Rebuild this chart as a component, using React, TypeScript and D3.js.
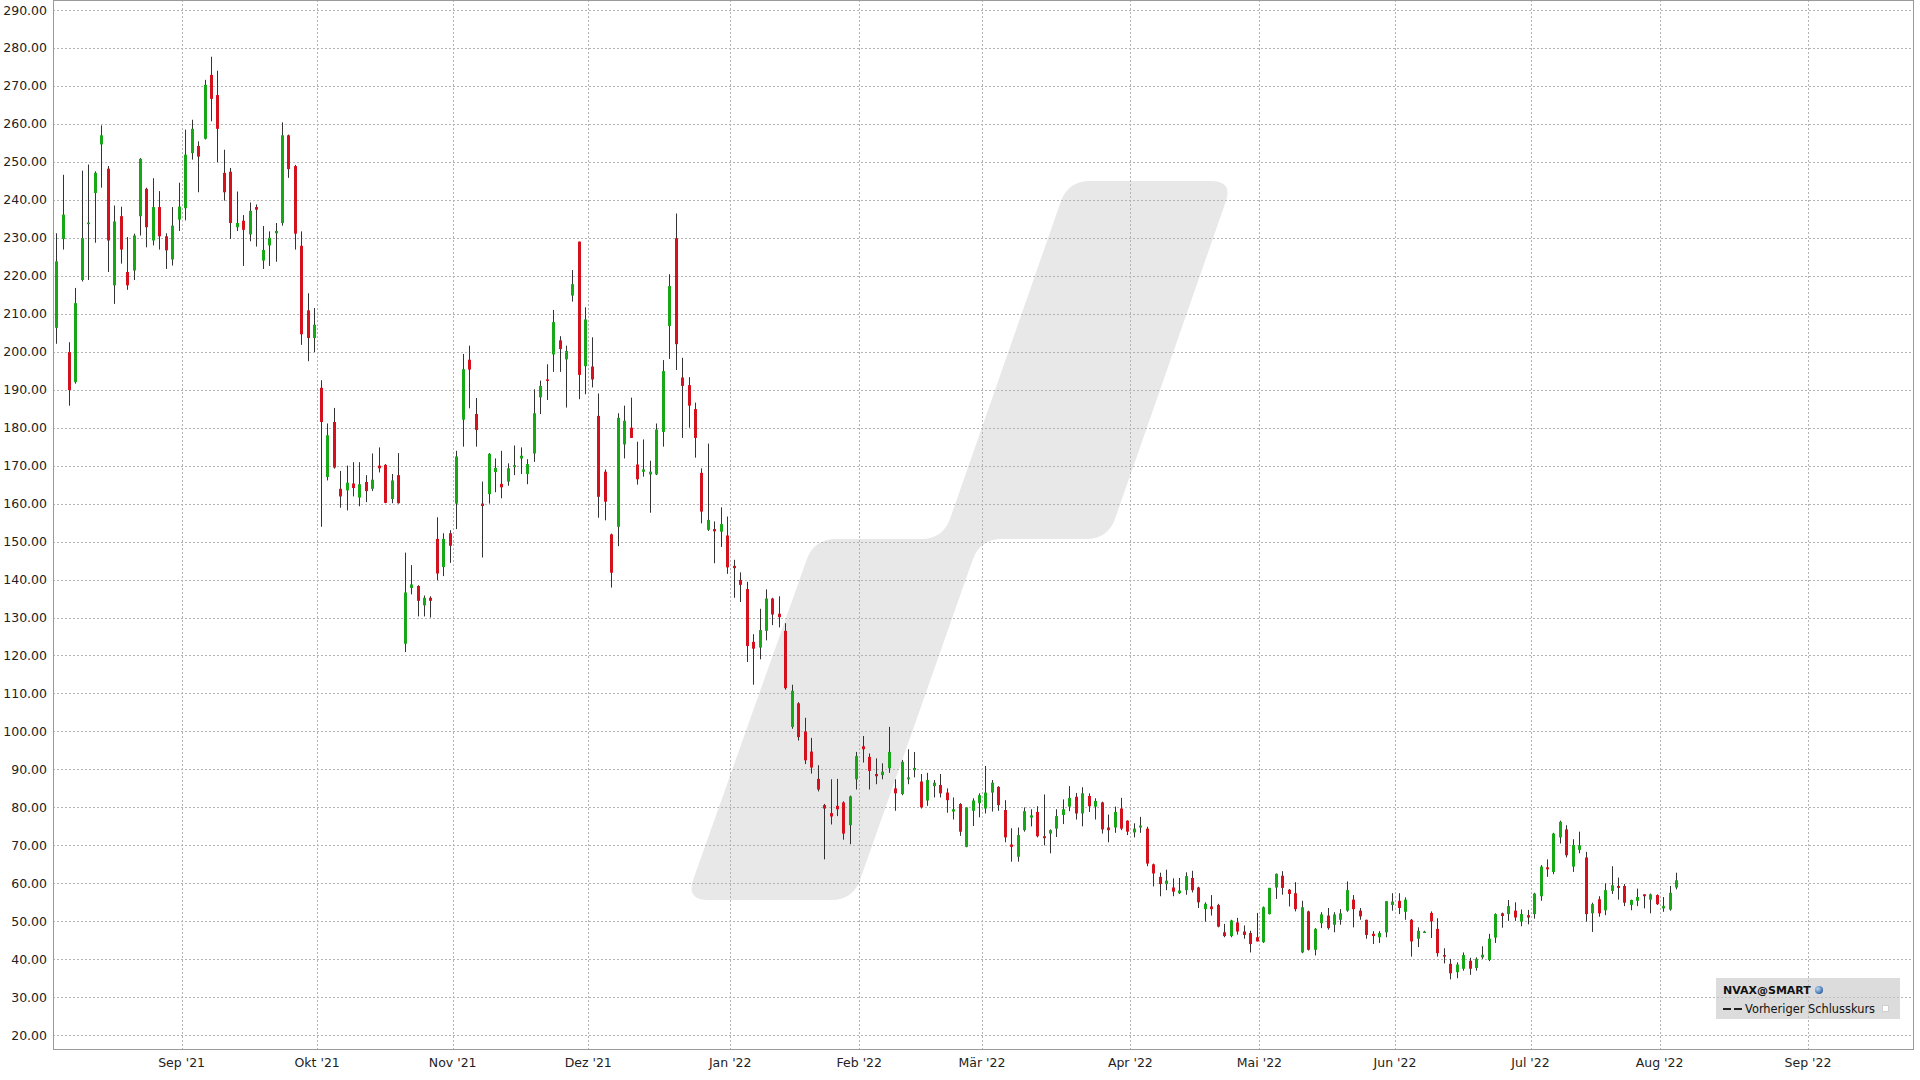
import { useMemo } from 'react'
import * as d3 from 'd3'

// NVAX daily candles, 2021-08-04 .. 2022-08-03 (one value per trading day)
const startDate = '2021-08-04'
const endDate = '2022-10-01'
const holidays = [
  '2021-09-06', '2021-11-25', '2021-12-24', '2022-01-17', '2022-02-21',
  '2022-04-15', '2022-05-30', '2022-06-20', '2022-07-04', '2022-09-05',
]
const monthNames = ['Jan', 'Feb', 'Mär', 'Apr', 'Mai', 'Jun', 'Jul', 'Aug', 'Sep', 'Okt', 'Nov', 'Dez']
const yTicks = d3.range(20, 291, 10)

const open = [
  206.3, 229.7, 199.9, 192.0, 218.9, 233.6, 241.8, 254.6, 248.2, 217.5,
  235.7, 221.0, 221.4, 235.7, 242.9, 229.3, 238.1, 230.4, 224.3, 234.8,
  237.8, 252.3, 254.2, 256.1, 272.9, 267.6, 247.1, 247.4, 232.8, 234.5,
  230.9, 238.1, 224.0, 228.0, 231.2, 233.9, 257.0, 248.9, 227.9, 210.9,
  203.6, 190.5, 167.0, 181.5, 163.9, 163.5, 165.3, 161.6, 165.7, 163.9,
  170.0, 170.2, 161.2, 167.5, 123.1, 137.8, 138.3, 133.2, 135.2, 150.7,
  143.3, 152.2, 160.0, 182.1, 197.9, 183.6, 160.0, 162.5, 168.3, 165.2,
  165.8, 169.6, 171.9, 167.8, 173.2, 188.0, 192.7, 199.3, 203.0, 198.0,
  214.8, 229.0, 196.2, 196.1, 183.1, 168.4, 151.9, 153.9, 175.6, 180.0,
  170.3, 168.4, 167.7, 167.7, 178.9, 206.8, 229.9, 193.2, 191.2, 184.9,
  168.1, 153.1, 153.3, 152.6, 151.6, 143.6, 139.9, 137.5, 123.6, 122.1,
  126.5, 135.0, 131.0, 126.5, 101.2, 107.4, 100.0, 94.7, 87.5, 80.6,
  78.5, 80.4, 81.3, 75.3, 87.4, 96.1, 93.3, 88.8, 88.5, 90.3,
  85.0, 83.5, 87.4, 89.8, 86.8, 81.8, 85.6, 85.9, 83.9, 78.9,
  80.9, 69.6, 79.1, 81.1, 79.7, 83.9, 85.4, 79.3, 70.2, 67.0,
  74.0, 77.3, 78.8, 72.4, 73.1, 74.4, 78.0, 80.2, 82.8, 78.4,
  83.0, 80.2, 81.3, 74.7, 74.7, 79.7, 76.5, 73.4, 74.7, 74.4,
  65.0, 61.7, 59.8, 58.9, 57.4, 58.2, 61.4, 58.9, 53.2, 53.9,
  54.3, 47.1, 46.1, 49.7, 47.3, 46.9, 45.8, 44.5, 51.9, 58.9,
  62.0, 58.3, 57.4, 41.8, 52.6, 42.5, 49.5, 51.5, 49.1, 50.4,
  52.8, 55.7, 52.8, 50.4, 46.7, 45.8, 47.1, 54.3, 55.4, 52.5,
  50.4, 45.4, 47.2, 52.2, 48.0, 41.1, 38.8, 36.6, 37.5, 39.6,
  37.7, 40.5, 39.8, 45.7, 52.1, 51.9, 52.8, 49.9, 51.6, 51.9,
  56.6, 64.2, 63.0, 72.1, 74.2, 64.4, 68.8, 66.8, 52.1, 55.8,
  52.9, 58.0, 59.3, 59.3, 54.3, 55.4, 57.1, 55.7, 56.9, 53.4,
  53.1, 58.9,
]

const high = [
  231.2, 246.6, 202.5, 216.8, 247.7, 249.3, 247.5, 259.6, 248.9, 238.5,
  238.2, 230.2, 231.1, 251.0, 243.2, 245.7, 242.3, 231.2, 238.1, 244.5,
  258.5, 261.1, 255.4, 271.6, 277.7, 274.0, 253.2, 248.4, 242.2, 236.0,
  239.3, 238.8, 233.1, 231.7, 233.9, 260.4, 257.2, 249.2, 231.7, 215.4,
  211.5, 192.5, 181.1, 185.2, 168.6, 170.0, 170.9, 170.9, 167.5, 173.2,
  174.8, 170.4, 167.8, 173.3, 147.1, 143.8, 138.5, 135.8, 135.6, 156.4,
  152.2, 153.0, 173.9, 199.4, 201.6, 187.8, 165.8, 173.3, 171.9, 173.9,
  170.6, 175.3, 174.8, 171.7, 190.1, 192.4, 196.7, 211.0, 204.1, 201.6,
  221.5, 229.0, 211.7, 203.8, 189.0, 169.0, 152.1, 183.8, 185.8, 187.9,
  176.3, 176.9, 171.3, 181.1, 197.8, 220.4, 236.4, 198.4, 193.3, 186.6,
  169.3, 175.8, 155.3, 159.0, 156.6, 145.2, 141.9, 139.4, 125.6, 132.3,
  137.4, 135.2, 135.6, 128.5, 112.3, 107.7, 103.6, 98.3, 91.1, 80.9,
  87.4, 87.5, 81.6, 83.1, 94.6, 98.8, 94.2, 92.9, 91.6, 101.2,
  87.4, 92.5, 95.3, 94.6, 88.8, 89.1, 87.2, 88.8, 85.0, 82.6,
  81.1, 80.0, 82.4, 83.7, 90.9, 87.2, 85.6, 81.9, 74.5, 74.7,
  80.0, 79.5, 80.3, 83.4, 74.2, 79.5, 82.1, 85.6, 83.8, 85.3,
  83.7, 82.4, 81.5, 78.1, 80.2, 82.5, 76.6, 75.8, 77.5, 74.9,
  65.2, 62.8, 63.6, 61.3, 61.4, 62.9, 63.3, 59.1, 55.0, 56.9,
  54.6, 49.3, 50.4, 50.9, 48.9, 47.5, 52.2, 53.9, 58.8, 62.6,
  63.2, 58.5, 60.3, 55.4, 52.8, 48.2, 52.4, 53.5, 52.4, 53.2,
  60.5, 56.9, 53.5, 50.4, 47.4, 47.4, 55.3, 57.4, 57.4, 56.3,
  50.6, 48.4, 47.5, 52.6, 50.8, 42.9, 40.1, 39.2, 41.8, 40.4,
  40.5, 43.4, 46.7, 52.1, 52.3, 55.6, 55.0, 53.1, 53.0, 57.5,
  64.8, 66.3, 73.3, 76.5, 75.3, 71.6, 73.6, 68.3, 54.9, 56.6,
  60.0, 64.5, 61.5, 59.8, 55.7, 58.6, 57.1, 57.3, 57.1, 56.4,
  59.3, 62.8,
]

const low = [
  202.1, 226.9, 185.8, 191.6, 218.5, 218.9, 228.7, 243.2, 221.0, 212.6,
  223.2, 216.3, 218.9, 230.6, 227.5, 228.0, 226.9, 221.8, 222.7, 231.8,
  234.6, 250.6, 242.0, 255.9, 260.7, 249.9, 239.8, 229.7, 231.8, 222.6,
  229.1, 227.7, 221.8, 222.6, 223.7, 233.2, 245.8, 226.9, 201.8, 197.5,
  199.9, 153.9, 166.1, 169.2, 158.9, 158.2, 161.9, 159.3, 160.4, 163.3,
  168.2, 160.1, 160.1, 160.0, 120.9, 136.1, 130.3, 130.3, 130.0, 139.8,
  140.9, 144.4, 153.3, 175.0, 185.1, 175.0, 145.8, 160.0, 163.0, 161.4,
  164.7, 167.5, 167.8, 165.1, 171.0, 183.6, 187.3, 194.7, 194.7, 185.3,
  213.2, 187.5, 188.8, 190.6, 156.3, 155.6, 137.9, 148.8, 171.9, 177.3,
  165.0, 167.1, 157.6, 167.5, 175.0, 198.1, 195.2, 177.3, 180.0, 172.1,
  154.8, 152.8, 144.3, 148.6, 141.5, 135.2, 134.1, 118.3, 112.3, 119.0,
  124.0, 128.0, 127.4, 111.0, 100.7, 97.6, 91.4, 88.9, 84.2, 66.3,
  75.5, 77.7, 71.5, 70.3, 84.7, 91.8, 84.7, 86.1, 87.4, 89.1,
  79.1, 83.2, 86.1, 87.9, 79.7, 80.4, 82.6, 82.6, 78.6, 76.8,
  72.5, 69.5, 75.1, 77.4, 78.4, 78.9, 79.1, 70.8, 65.7, 65.7,
  73.6, 75.0, 72.1, 70.0, 67.9, 72.2, 75.6, 79.0, 76.8, 75.0,
  78.8, 76.8, 73.1, 70.8, 73.3, 74.0, 72.7, 72.1, 73.3, 64.5,
  59.2, 56.6, 58.2, 56.6, 57.2, 57.0, 57.6, 53.5, 49.9, 51.5,
  48.4, 45.8, 45.8, 46.5, 45.4, 41.8, 44.7, 44.3, 51.8, 55.9,
  57.0, 53.9, 52.6, 41.6, 42.3, 41.0, 48.2, 47.8, 47.1, 49.1,
  52.5, 48.4, 50.4, 45.4, 44.0, 44.3, 45.8, 52.8, 51.9, 50.4,
  40.7, 43.2, 47.1, 45.6, 40.7, 38.9, 34.7, 35.0, 37.0, 35.9,
  37.0, 40.1, 39.5, 44.3, 48.3, 50.1, 50.1, 48.7, 49.2, 50.7,
  55.4, 61.7, 62.4, 70.5, 66.8, 63.0, 67.9, 49.9, 47.2, 51.2,
  51.6, 57.2, 55.7, 54.0, 52.9, 54.0, 53.4, 52.1, 54.3, 52.5,
  52.8, 58.4,
]

const close = [
  223.8, 236.1, 189.9, 212.8, 229.9, 234.0, 247.1, 257.0, 229.3, 234.3,
  226.9, 217.5, 230.6, 250.8, 232.8, 238.1, 230.4, 226.7, 233.2, 238.2,
  251.9, 258.7, 251.4, 270.3, 266.6, 258.7, 242.0, 233.9, 233.9, 232.1,
  237.1, 237.4, 226.8, 230.0, 231.8, 257.0, 248.1, 231.1, 204.6, 203.6,
  207.1, 181.5, 178.0, 169.5, 161.9, 165.5, 164.1, 165.1, 163.3, 166.3,
  169.3, 160.2, 166.1, 160.1, 136.6, 138.7, 134.4, 135.2, 134.4, 141.6,
  150.7, 148.9, 172.4, 195.4, 195.3, 179.4, 159.4, 173.1, 169.4, 164.3,
  169.3, 170.1, 172.6, 170.4, 183.8, 191.0, 192.3, 207.8, 200.7, 200.2,
  217.8, 193.9, 208.5, 192.7, 161.8, 160.5, 141.8, 182.6, 181.8, 177.3,
  166.4, 169.0, 168.4, 179.5, 194.9, 217.3, 202.0, 191.0, 185.8, 177.3,
  157.9, 155.7, 152.7, 154.6, 143.2, 143.0, 138.6, 122.5, 121.8, 126.7,
  135.0, 130.8, 130.1, 111.4, 110.7, 98.5, 92.4, 90.5, 84.7, 79.7,
  77.6, 79.5, 73.1, 82.9, 93.5, 95.3, 89.6, 88.2, 89.4, 94.6,
  83.7, 92.0, 87.9, 90.4, 80.0, 87.2, 86.5, 83.7, 81.9, 79.5,
  73.6, 80.0, 81.8, 83.2, 83.9, 86.5, 80.6, 72.1, 69.6, 72.7,
  79.0, 77.9, 72.4, 71.9, 74.0, 77.7, 79.5, 82.5, 78.4, 83.7,
  80.3, 81.7, 74.2, 74.0, 78.8, 74.4, 73.6, 74.4, 75.2, 65.2,
  62.6, 59.8, 60.7, 57.8, 58.1, 61.9, 58.2, 55.0, 54.6, 53.2,
  48.6, 46.1, 50.2, 47.3, 46.4, 44.0, 44.7, 53.7, 58.8, 62.5,
  58.8, 57.2, 53.2, 53.7, 42.5, 48.0, 51.8, 48.2, 51.8, 52.1,
  58.2, 53.2, 51.3, 46.4, 46.1, 46.9, 55.3, 55.2, 53.5, 55.7,
  44.7, 47.5, 47.3, 50.0, 41.6, 40.7, 36.3, 38.6, 41.1, 37.5,
  40.1, 41.2, 45.4, 51.9, 51.4, 54.0, 51.0, 51.9, 51.0, 57.3,
  64.4, 63.7, 73.1, 76.2, 67.4, 70.1, 70.0, 51.9, 54.5, 52.1,
  58.2, 59.5, 58.8, 54.9, 55.6, 56.4, 56.6, 57.1, 54.5, 54.0,
  57.5, 60.8,
]

const W = 1920
const H = 1080
const plot = { left: 53, right: 1914, top: 0, bottom: 1049 }
const font = '"DejaVu Sans", Verdana, sans-serif'
const green = '#16a816'
const red = '#d4111d'

// background logo (decoration only)
const logoPts: [number, number][] = [
  [1068, 181], [1233, 181], [1108, 539], [980, 539],
  [853, 900], [686, 900], [814, 539], [943, 539],
]

function roundedPath(pts: [number, number][], r: number) {
  const n = pts.length
  let d = ''
  for (let k = 0; k < n; k++) {
    const p0 = pts[(k - 1 + n) % n]
    const p1 = pts[k]
    const p2 = pts[(k + 1) % n]
    const l1 = Math.hypot(p0[0] - p1[0], p0[1] - p1[1])
    const l2 = Math.hypot(p2[0] - p1[0], p2[1] - p1[1])
    const rr = Math.min(r, l1 / 2, l2 / 2)
    const a = [p1[0] + (p0[0] - p1[0]) / l1 * rr, p1[1] + (p0[1] - p1[1]) / l1 * rr]
    const b = [p1[0] + (p2[0] - p1[0]) / l2 * rr, p1[1] + (p2[1] - p1[1]) / l2 * rr]
    d += `${k === 0 ? 'M' : 'L'}${a[0]},${a[1]}Q${p1[0]},${p1[1]} ${b[0]},${b[1]}`
  }
  return d + 'Z'
}

export default function App() {
  const { days, x, y, step } = useMemo(() => {
    const parse = d3.utcParse('%Y-%m-%d')
    const fmt = d3.utcFormat('%Y-%m-%d')
    const hol = new Set(holidays)
    const days = d3.utcDay
      .range(parse(startDate)!, parse(endDate)!)
      .filter(d => d.getUTCDay() !== 0 && d.getUTCDay() !== 6 && !hol.has(fmt(d)))
    const x = d3.scaleLinear().domain([-0.48, 287.87]).range([plot.left, plot.right])
    const y = d3.scaleLinear().domain([20, 290]).range([1035.2, 10])
    return { days, x, y, step: x(1) - x(0) }
  }, [])

  const n = Math.min(open.length, high.length, low.length, close.length)
  const candles = d3.range(n).map(i => ({ i, o: open[i], h: high[i], l: low[i], c: close[i] }))

  const monthTicks = days
    .map((d, i) => ({ d, i }))
    .filter(({ d, i }) => i > 0 && d.getUTCMonth() !== days[i - 1].getUTCMonth() && x(i) < plot.right)
    .map(({ d, i }) => ({
      i,
      label: `${monthNames[d.getUTCMonth()]} '${String(d.getUTCFullYear()).slice(2)}`,
      px: x(i) - 0.55 * step,
    }))

  return (
    <svg width={W} height={H} style={{ position: 'absolute', left: 0, top: 0, background: '#fff' }}
      fontFamily={font}>
      <rect x={0} y={0} width={W} height={H} fill="#fff" />
      <path d={roundedPath(logoPts, 22)} fill="#e8e8e8" />

      {/* grid */}
      <g stroke="#b3b3b3" strokeWidth={1} strokeDasharray="2,2" fill="none">
        {yTicks.map(v => (
          <line key={v} x1={plot.left} x2={plot.right} y1={Math.round(y(v)) + 0.5} y2={Math.round(y(v)) + 0.5} />
        ))}
        {monthTicks.map(t => (
          <line key={t.i} x1={Math.round(t.px) + 0.5} x2={Math.round(t.px) + 0.5} y1={plot.top} y2={plot.bottom} />
        ))}
      </g>

      {/* candles */}
      <g>
        {candles.map(c => {
          const cx = Math.round(x(c.i))
          const up = c.c >= c.o
          const top = y(Math.max(c.o, c.c))
          const bh = Math.max(1.5, Math.abs(y(c.o) - y(c.c)))
          return (
            <g key={c.i}>
              <line x1={cx + 0.5} x2={cx + 0.5} y1={y(c.h)} y2={y(c.l)} stroke="#333" strokeWidth={1} />
              <rect x={cx - 1} y={top} width={3} height={bh} fill={up ? green : red} />
            </g>
          )
        })}
      </g>

      {/* frame */}
      <rect x={plot.left + 0.5} y={plot.top + 0.5} width={plot.right - plot.left - 1} height={plot.bottom - plot.top}
        fill="none" stroke="#9a9a9a" strokeWidth={1} />

      {/* axis labels */}
      <g fontSize={12.5} fill="#222">
        {yTicks.map(v => (
          <text key={v} x={47} y={y(v) + 4.5} textAnchor="end">{v.toFixed(2)}</text>
        ))}
        {monthTicks.map(t => (
          <text key={t.i} x={t.px} y={1067} textAnchor="middle">{t.label}</text>
        ))}
      </g>

      {/* legend */}
      <g>
        <rect x={1716} y={978} width={184} height={41} fill="#c4c4c4" fillOpacity={0.6} />
        <text x={1723} y={994} fontSize={11} fontWeight="bold" fill="#111">NVAX@SMART</text>
        <defs>
          <radialGradient id="globe" cx="35%" cy="35%" r="70%">
            <stop offset="0%" stopColor="#bcd8f2" />
            <stop offset="100%" stopColor="#2c62a8" />
          </radialGradient>
        </defs>
        <circle cx={1819} cy={990} r={4} fill="url(#globe)" />
        <line x1={1723} x2={1742} y1={1009} y2={1009} stroke="#222" strokeWidth={2} strokeDasharray="8,3" />
        <text x={1745} y={1013} fontSize={11.4} fill="#111">Vorheriger Schlusskurs</text>
        <rect x={1882.5} y={1005.5} width={6} height={6} fill="#fff" stroke="#d0d0d0" />
      </g>
    </svg>
  )
}
